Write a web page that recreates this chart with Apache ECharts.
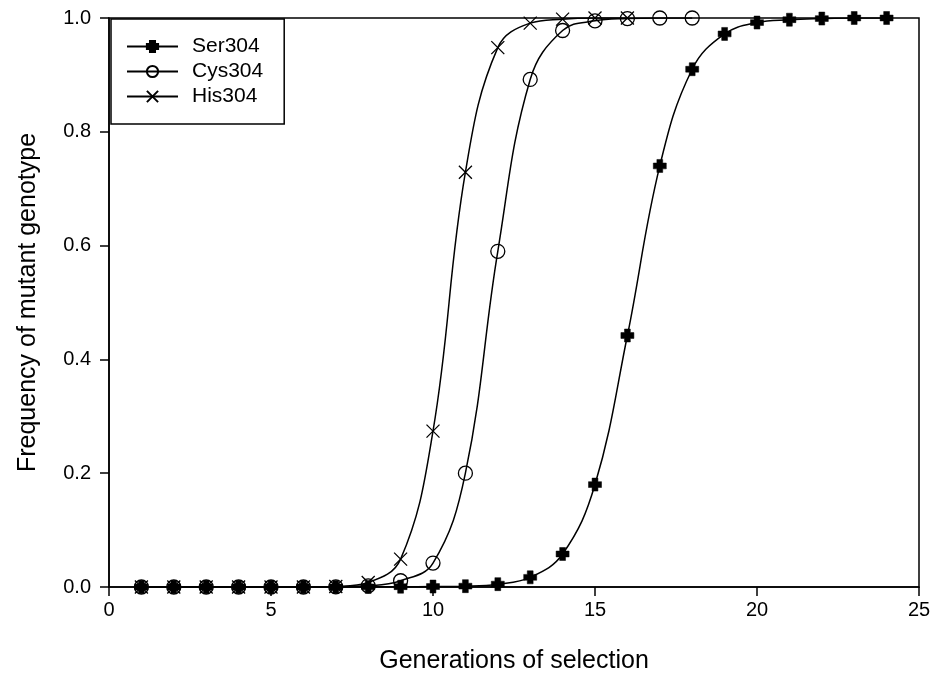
<!DOCTYPE html>
<html>
<head>
<meta charset="utf-8">
<script src="https://cdn.jsdelivr.net/npm/echarts@6/dist/echarts.min.js"></script>
<style>html,body{margin:0;padding:0;background:#fff}#c{width:946px;height:682px}</style>
</head>
<body>
<div id="c"></div>
<script>
// Data
const serGen = [1,2,3,4,5,6,7,8,9,10,11,12,13,14,15,16,17,18,19,20,21,22,23,24];
const serFreq = [0,0,0,0,0,0,0,0.0002,0.0005,0.0008,0.0015,0.005,0.017,0.058,0.18,0.442,0.74,0.91,0.972,0.992,0.997,0.999,1.0,1.0];
const cysGen = [1,2,3,4,5,6,7,8,9,10,11,12,13,14,15,16,17,18];
const cysFreq = [0,0,0,0,0,0,0.0003,0.002,0.011,0.042,0.2,0.59,0.892,0.978,0.995,0.999,1.0,1.0];
const hisGen = [1,2,3,4,5,6,7,8,9,10,11,12,13,14,15,16];
const hisFreq = [0,0,0,0,0,0,0.001,0.008,0.049,0.274,0.729,0.948,0.991,0.998,1.0,1.0];
const xTicks = [0,5,10,15,20,25];
const yTicks = [0.0,0.2,0.4,0.6,0.8,1.0];

const FONT = 'Liberation Sans, Arial, sans-serif';
const plusPath = 'path://M-0.45,-1 L0.45,-1 L0.45,-0.45 L1,-0.45 L1,0.45 L0.45,0.45 L0.45,1 L-0.45,1 L-0.45,0.45 L-1,0.45 L-1,-0.45 L-0.45,-0.45 Z';
const xPath = 'path://M0,0 L10,10 M10,0 L0,10';

function pairs(xs, ys){ return xs.map((x,i)=>[x, ys[i]]); }

const chart = echarts.init(document.getElementById('c'), null, {renderer:'canvas'});
chart.setOption({
  animation:false,
  backgroundColor:'#fff',
  textStyle:{fontFamily:FONT},
  grid:{left:109, right:27, top:18, bottom:95, show:true, borderColor:'#000', borderWidth:1.5, backgroundColor:'transparent'},
  legend:{
    orient:'vertical', left:111, top:19,
    padding:[17,21,17,15],
    itemGap:4, itemWidth:51, itemHeight:14,
    borderColor:'#000', borderWidth:1.5, backgroundColor:'#fff',
    textStyle:{fontSize:21, color:'#000', fontFamily:FONT, padding:[0,0,0,9]},
    data:['Ser304','Cys304','His304']
  },
  xAxis:{
    type:'value', min:xTicks[0], max:xTicks[xTicks.length-1], interval:5,
    name:'Generations of selection', nameLocation:'middle', nameGap:62,
    nameTextStyle:{fontSize:25, color:'#000', fontFamily:FONT},
    axisLine:{show:true, lineStyle:{color:'#000', width:1.5}},
    axisTick:{show:true, inside:false, length:9, lineStyle:{color:'#000', width:1.5}},
    axisLabel:{fontSize:20, color:'#000', margin:13, fontFamily:FONT},
    splitLine:{show:false}
  },
  yAxis:{
    type:'value', min:yTicks[0], max:yTicks[yTicks.length-1], interval:0.2,
    name:'Frequency of mutant genotype', nameLocation:'middle', nameGap:68, nameRotate:90,
    nameTextStyle:{fontSize:25, color:'#000', fontFamily:FONT},
    axisLine:{show:true, lineStyle:{color:'#000', width:1.5}},
    axisTick:{show:true, inside:false, length:9, lineStyle:{color:'#000', width:1.5}},
    axisLabel:{fontSize:20, color:'#000', margin:18, fontFamily:FONT, formatter:v=>v.toFixed(1)},
    splitLine:{show:false}
  },
  series:[
    {
      name:'Ser304', type:'line', data:pairs(serGen, serFreq),
      smooth:0.4,
      symbol:plusPath, symbolSize:13,
      lineStyle:{color:'#000', width:1.5},
      itemStyle:{color:'#000', borderColor:'#000', borderWidth:0.5},
      z:3
    },
    {
      name:'Cys304', type:'line', data:pairs(cysGen, cysFreq),
      smooth:0.4,
      symbol:'circle', symbolSize:14,
      lineStyle:{color:'#000', width:1.5},
      itemStyle:{color:'rgba(0,0,0,0)', borderColor:'#000', borderWidth:1.3},
      z:4
    },
    {
      name:'His304', type:'line', data:pairs(hisGen, hisFreq),
      smooth:0.4,
      symbol:xPath, symbolSize:13,
      lineStyle:{color:'#000', width:1.5},
      itemStyle:{color:'rgba(0,0,0,0)', borderColor:'#000', borderWidth:1.3},
      z:5
    }
  ]
});
</script>
</body>
</html>
